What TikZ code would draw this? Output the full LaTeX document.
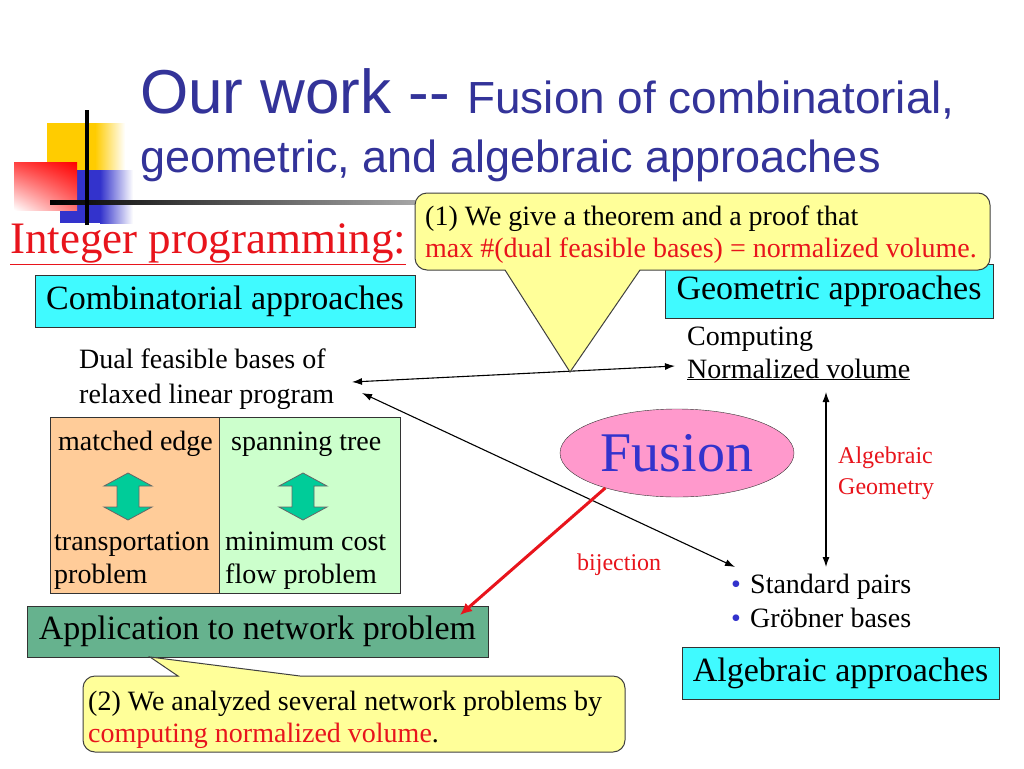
\documentclass[tikz,border=0pt]{standalone}
\usepackage{fontspec}
\setmainfont{Liberation Serif}
\newfontfamily\titlefont{Liberation Sans}
\usetikzlibrary{arrows.meta,shapes.geometric,shadings}
\definecolor{titleblue}{HTML}{333399}
\definecolor{ipred}{HTML}{E8141C}
\definecolor{cyanbox}{HTML}{40FAFF}
\definecolor{peach}{HTML}{FFCC99}
\definecolor{palegreen}{HTML}{CCFFCC}
\definecolor{tealarrow}{HTML}{00CC99}
\definecolor{appgreen}{HTML}{66B28E}
\definecolor{calloutyellow}{HTML}{FFFF99}
\definecolor{fusionpink}{HTML}{FF99CC}
\definecolor{fusionblue}{HTML}{3333CC}
\definecolor{decogold}{HTML}{FFCC00}
\definecolor{decoblue}{HTML}{3333CC}
\newcommand\fsz[1]{\fontsize{#1}{#1}\selectfont}
\begin{document}
\begin{tikzpicture}[x=1pt,y=-1pt,
  txt/.style={anchor=base west,inner sep=0pt,font={\fsz{28}}},
  redtxt/.style={txt,text=ipred},
  boxcyan/.style={draw=black!80,fill=cyanbox,inner sep=0pt,font={\fsz{34}}},
  callout/.style={draw=black!75,fill=calloutyellow,line width=1pt},
  dbl/.style={draw=black,line width=1.1pt,{Latex[length=10pt,width=7pt]}-{Latex[length=10pt,width=7pt]}},
  redarrow/.style={draw=ipred,line width=3pt,-{Latex[length=12pt,width=11pt]}},
  blockarrow/.style={draw=black!60,fill=tealarrow,line width=0.8pt}
]
\useasboundingbox (0,0) rectangle (1024,768);
\fill[white] (0,0) rectangle (1024,768);

% --- decoration
\fill[decogold] (47,123) rectangle (95,170);
\shade[left color=decogold,right color=white] (95,123) rectangle (125,170);
\fill[decoblue] (60,170) rectangle (100,223);
\shade[left color=decoblue,right color=white] (100,170) rectangle (133,223);
\shade[upper left=red!75!white,upper right=red,lower left=white,lower right=red!55!white] (14,162) rectangle (77,210);
\shade[left color=black,right color=black!35] (50,200) rectangle (415,204);
\fill[black] (85,110) rectangle (89,225);

% --- title
\node[anchor=base west,inner sep=0pt,text=titleblue] (title1) at (140,113)
  {\titlefont\fsz{62}Our work -{}- {\fsz{45}\scalebox{1.02}[1]{Fusion of combinatorial,}}};
\node[anchor=base west,inner sep=0pt,text=titleblue] (title2) at (140,172)
  {\titlefont\fsz{45}geometric, and algebraic approaches};

% --- left part
\node[anchor=base west,inner sep=0pt,text=ipred,font={\fsz{45}}] (ip) at (10,253) {\underline{Integer programming:}};
\node[boxcyan,minimum width=380pt,minimum height=52pt] (comb) at (225,301) {Combinatorial approaches};
\node[txt] (dual1) at (79,368) {Dual feasible bases of};
\node[txt] (dual2) at (79,403) {relaxed linear program};

\node[draw=black!80,fill=peach,minimum width=169pt,minimum height=176pt,inner sep=0pt] (obox) at (134.5,505) {};
\node[draw=black!80,fill=palegreen,minimum width=181pt,minimum height=176pt,inner sep=0pt] (gbox) at (309.5,505) {};
\node[txt] (matched) at (58,450) {matched edge};
\node[txt] (span) at (231,450) {spanning tree};
\node[txt] (transp) at (54,550) {transportation};
\node[txt] (transp2) at (54,583) {problem};
\node[txt] (mincost) at (225,550) {minimum cost};
\node[txt] (mincost2) at (225,583) {flow problem};

\foreach \c/\nm in {128/oarr,303/garr}{
  \draw[blockarrow] (\c,473) -- (\c+24,486) -- (\c+11,486) -- (\c+11,507) -- (\c+24,507)
     -- (\c,520) -- (\c-24,507) -- (\c-11,507) -- (\c-11,486) -- (\c-24,486) -- cycle;
}

\node[draw=black!80,fill=appgreen,minimum width=461pt,minimum height=51pt,inner sep=0pt,font={\fsz{34}}] (app) at (257.5,631.5) {Application to network problem};

% --- right part
\node[boxcyan,minimum width=328pt,minimum height=54pt] (geo) at (829,291) {Geometric approaches};
\node[txt] (comp) at (687,345) {Computing};
\node[txt] (norm) at (687,378) {\underline{Normalized volume}};

\node[ellipse,draw=black!80,fill=fusionpink,minimum width=234pt,minimum height=88pt,inner sep=0pt,font={\fsz{56}},text=fusionblue] (fusion) at (677,453) {Fusion};

\node[redtxt,font={\fsz{24}}] (alg1) at (838,463) {Algebraic};
\node[redtxt,font={\fsz{24}}] (alg2) at (838,494) {Geometry};
\node[redtxt,font={\fsz{24}}] (bij) at (577,570) {bijection};

\node[txt,text=fusionblue] (b1) at (731,593) {•};
\node[txt] (sp) at (750,593) {Standard pairs};
\node[txt,text=fusionblue] (b2) at (731,627) {•};
\node[txt] (gb) at (750,627) {Gröbner bases};

\node[boxcyan,minimum width=317pt,minimum height=52pt] (alg) at (840.5,673) {Algebraic approaches};

% --- connectors
\coordinate (a1l) at (352,382);
\coordinate (a1r) at (675,366);
\coordinate (a2l) at (362,393);
\coordinate (a2r) at (735,567);
\coordinate (vtop) at (826,392);
\coordinate (vbot) at (826,567);
\coordinate (apptip) at (460,615);
\draw[dbl] (a1l) -- (a1r);
\draw[dbl] (a2l) -- (a2r);
\draw[dbl] (vtop) -- (vbot);
\draw[redarrow] (fusion.206) -- (apptip);

% --- callout 1
\draw[callout] (415,232) [rounded corners=12pt] -- (415,193) -- (990,193) -- (990,270) -- (660,270)
  [sharp corners] -- (640,270) -- (570,372) -- (505,270) -- (485,270) [rounded corners=12pt] -- (415,270) -- cycle;
\node[txt] (c1a) at (425,225) {(1) We give a theorem and a proof that};
\node[redtxt] (c1b) at (425,257) {max \#(dual feasible bases) = normalized volume.};

% --- callout 2
\draw[callout] (83,714) [rounded corners=12pt] -- (83,676) -- (150,676)
  [sharp corners] -- (178,676) -- (150,657) -- (300,676) -- (330,676) [rounded corners=12pt] -- (625,676) -- (625,752) -- (83,752) -- cycle;
\node[txt] (c2a) at (88,710) {(2) We analyzed several network problems by};
\node[txt] (c2b) at (88,742) {\textcolor{ipred}{computing normalized volume}.};
\end{tikzpicture}
\end{document}
